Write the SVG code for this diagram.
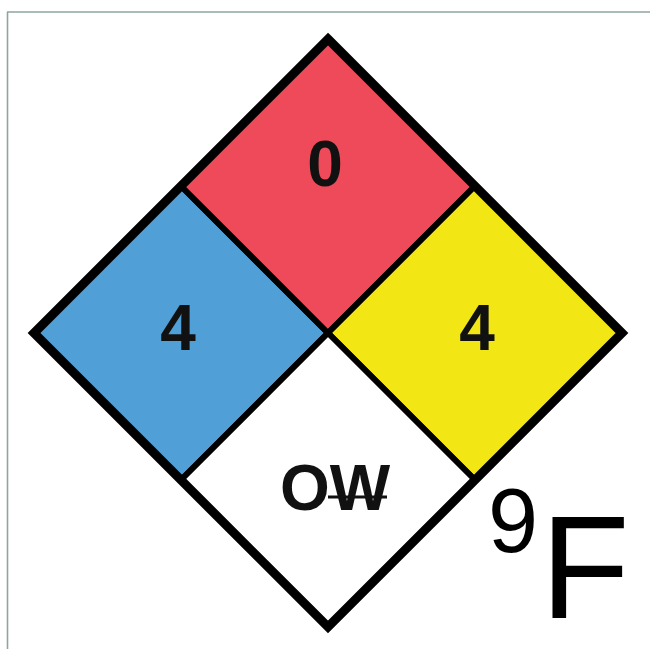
<svg xmlns="http://www.w3.org/2000/svg" width="650" height="649" viewBox="0 0 650 649">
<style>
.frame{stroke:#8ea69b;stroke-width:1.6;fill:none}
.q{stroke:#000;stroke-width:6;stroke-linejoin:miter}
.num{font-family:"Liberation Sans",Arial,sans-serif;font-weight:bold;font-size:64px;fill:#111;text-anchor:middle}
.big{font-family:"Liberation Sans",Arial,sans-serif;fill:#000;text-anchor:middle}
</style>
<rect width="650" height="649" fill="#fff"/>
<g id="frame"><line class="frame" x1="7.5" y1="12" x2="7.5" y2="649"/><line class="frame" x1="7" y1="12" x2="650" y2="12"/></g>
<g id="health"><polygon class="q" fill="#519fd7" points="181,186 328,333 181,480 34,333"/><text class="num" x="178" y="350">4</text></g>
<g id="flammability"><polygon class="q" fill="#ee4a5a" points="328,39 475,186 328,333 181,186"/><text class="num" x="325" y="186">0</text></g>
<g id="instability"><polygon class="q" fill="#f2e614" points="475,186 622,333 475,480 328,333"/><text class="num" x="477" y="350">4</text></g>
<g id="special"><polygon class="q" fill="#fff" points="328,333 475,480 328,627 181,480"/><text class="num" x="335" y="510">OW</text><line x1="328" y1="497" x2="387" y2="497" stroke="#111" stroke-width="3"/></g>
<g id="outline"><polygon points="328,39 622,333 328,627 34,333" fill="none" stroke="#000" stroke-width="9" stroke-linejoin="miter"/></g>
<g id="label"><text class="big" x="513" y="552" font-size="90">9</text><text class="big" x="585" y="618" font-size="146">F</text></g>
</svg>
